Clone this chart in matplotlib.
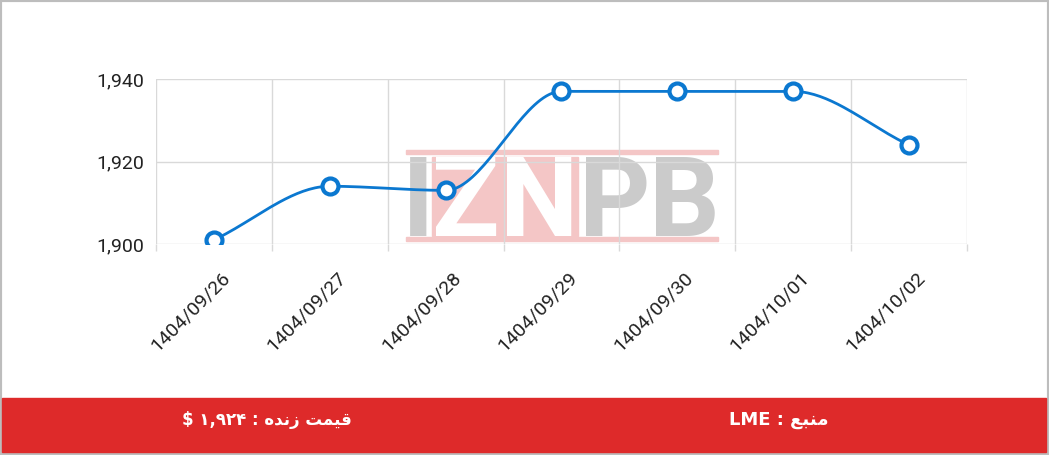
import numpy as np
import matplotlib as ml
import matplotlib.pyplot as plt
from matplotlib.patches import Rectangle
from matplotlib.transforms import ScaledTranslation

# data
dates = ['1404/09/26', '1404/09/27', '1404/09/28', '1404/09/29',
         '1404/09/30', '1404/10/01', '1404/10/02']
prices = [1901, 1914, 1913, 1937, 1937, 1937, 1924]
yticks = [1900, 1920, 1940]

# footer texts (arabic presentation forms, visual order since mpl does no shaping)
live_word = '\uFE96\uFEE4\uFEF4\uFED7'      # قیمت
live_word2 = '\uFEE9\uFEAA\uFEE7\uFEAF'     # زنده
src_word = '\uFECA\uFE92\uFEE8\uFEE3'       # منبع
live_price = '\u06F1,\u06F9\u06F2\u06F4'    # ۱,۹۲۴
footer_left = '$ ' + live_price + ' : ' + live_word2 + ' ' + live_word
footer_right = 'LME : ' + src_word

blue = '#0b78d0'
grid = '#d9d9d9'
red = '#de2a2a'
pink = '#f4c6c6'
logo_grey = '#cbcbcb'


def monotone(x, y, n=40):
    # fritsch-carlson monotone cubic, like chart.js cubicInterpolationMode
    x = np.asarray(x, float)
    y = np.asarray(y, float)
    h = np.diff(x)
    d = np.diff(y) / h
    m = np.zeros_like(y)
    m[0], m[-1] = d[0], d[-1]
    for i in range(1, len(y) - 1):
        if d[i - 1] * d[i] <= 0:
            m[i] = 0
        else:
            m[i] = (d[i - 1] + d[i]) / 2
    for i in range(len(d)):
        if d[i] == 0:
            m[i] = m[i + 1] = 0
            continue
        a, b = m[i] / d[i], m[i + 1] / d[i]
        s = a * a + b * b
        if s > 9:
            t = 3 / np.sqrt(s)
            m[i], m[i + 1] = t * a * d[i], t * b * d[i]
    xs, ys = [], []
    for i in range(len(d)):
        t = np.linspace(0, 1, n)
        h00 = 2 * t**3 - 3 * t**2 + 1
        h10 = t**3 - 2 * t**2 + t
        h01 = -2 * t**3 + 3 * t**2
        h11 = t**3 - t**2
        xs.append(x[i] + t * h[i])
        ys.append(h00 * y[i] + h10 * h[i] * m[i] + h01 * y[i + 1] + h11 * h[i] * m[i + 1])
    return np.concatenate(xs), np.concatenate(ys)


plt.rcParams['font.family'] = ['Roboto', 'DejaVu Sans']

fig = plt.figure(figsize=(10.49, 4.55), dpi=100)
fig.patch.set_facecolor('white')


def fx(px):
    return px / 1049.0


def fy(py):
    return 1 - py / 455.0


# outer frame
fig.patches.append(Rectangle((0, 0), 1, 1, transform=fig.transFigure,
                             fill=False, edgecolor='#bdbdbd', lw=3, zorder=-5))

# watermark logo (behind the chart)
for top in (150, 237):
    fig.patches.append(Rectangle((fx(406), fy(top + 4)), fx(718) - fx(406), 4 / 455.0,
                                 transform=fig.transFigure, color=pink, zorder=-4))
fig.patches.append(Rectangle((fx(432), fy(236)), fx(578) - fx(432), 79 / 455.0,
                             transform=fig.transFigure, color=pink, zorder=-4))
for ch, cx_, col in [('I', 418, logo_grey), ('Z', 466, 'white'), ('N', 539, 'white'),
                     ('P', 615, logo_grey), ('B', 684, logo_grey)]:
    fig.text(fx(cx_), fy(236), ch, fontsize=80, fontweight='bold', color=col,
             ha='center', va='baseline', zorder=-3)

ax = fig.add_axes([156 / 1049, 211 / 455, (967 - 156) / 1049, 165 / 455])
ax.patch.set_alpha(0)

x = np.arange(len(prices))
cx, cy = monotone(x, prices)
ax.plot(cx, cy, color=blue, lw=2, zorder=3)
ax.plot(x, prices, 'o', ms=11.5, mfc='white', mec=blue, mew=3, zorder=4, clip_on=True)

ax.set_xlim(-0.5, len(prices) - 0.5)
ax.set_ylim(1900, 1940)

ax.set_yticks(yticks)
ax.set_yticklabels(['{:,}'.format(v) for v in yticks])
ax.set_xticks(x)
ax.set_xticklabels(dates, rotation=45, ha='right', va='center', rotation_mode='anchor')
ax.set_xticks(np.arange(-0.5, len(prices)), minor=True)

ax.grid(False)
for v in yticks:
    ax.axhline(v, color=grid, lw=1, zorder=1)
for v in np.arange(-0.5, len(prices)):
    ax.axvline(v, color=grid, lw=1, zorder=1)

for s in ax.spines.values():
    s.set_visible(False)

ax.tick_params(axis='x', which='major', length=0, pad=0, labelsize=14, labelcolor='#222222')
ax.tick_params(axis='x', which='minor', length=5, color=grid, width=1)
ax.tick_params(axis='y', length=0, pad=8.5, labelsize=14, labelcolor='#222222')

off = ScaledTranslation(0.13, -0.31, fig.dpi_scale_trans)
for lab in ax.get_xticklabels():
    lab.set_transform(lab.get_transform() + off)

# red footer bar
fig.patches.append(Rectangle((fx(2), fy(452)), fx(1046) - fx(2), 54 / 455.0,
                             transform=fig.transFigure, color=red, zorder=1))
fig.text(fx(267), fy(420), footer_left, color='white', fontsize=12, fontweight='bold',
         family=['DejaVu Sans'], ha='center', va='center')
fig.text(fx(779), fy(420), footer_right, color='white', fontsize=13, fontweight='bold',
         family=['DejaVu Sans'], ha='center', va='center')

plt.savefig('out.png', dpi=100)
